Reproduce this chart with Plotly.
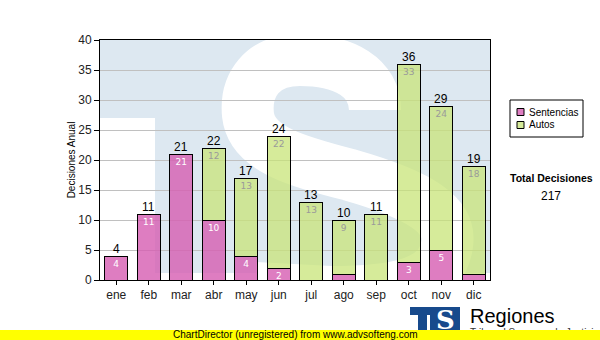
import plotly.graph_objects as go

# Monthly decisions, split by type
meses = ["ene", "feb", "mar", "abr", "may", "jun", "jul", "ago", "sep", "oct", "nov", "dic"]
sentencias = [4, 11, 21, 10, 4, 2, 0, 1, 0, 3, 5, 1]
autos = [0, 0, 0, 12, 13, 22, 13, 9, 11, 33, 24, 18]
series_names = ["Sentencias", "Autos"]
y_ticks = [0, 5, 10, 15, 20, 25, 30, 35, 40]

totales = [s + a for s, a in zip(sentencias, autos)]
total_decisiones = sum(totales)

W, H = 600, 340
PL, PR, PT, PB = 100, 490, 40, 280  # plot area in page pixels

PINK = "rgba(214,92,178,0.8)"
GREEN = "rgba(200,228,120,0.75)"
WATER = "#dde8f1"
FONT = "Liberation Sans, Arial, sans-serif"


def fx(x):
    return (x - PL) / (PR - PL)


def fy(y):
    return (PB - y) / (PB - PT)


def pg(x, y):
    return f"{fx(x):.4f},{fy(y):.4f}"


def label_text(vals):
    return [str(v) if v >= 2 else "" for v in vals]


def page_text(x, y, text, size, color="black", xanchor="center", family=FONT, **kw):
    return dict(x=fx(x), y=fy(y), xref="paper", yref="paper", text=text,
                showarrow=False, xanchor=xanchor, yanchor="middle",
                font=dict(size=size, color=color, family=family), **kw)


fig = go.Figure()
fig.add_bar(x=meses, y=sentencias, name=series_names[0],
            marker=dict(color=PINK, line=dict(color="black", width=1)),
            text=label_text(sentencias), textposition="inside",
            insidetextanchor="end", textangle=0,
            textfont=dict(color="white", size=9, family="DejaVu Sans"))
fig.add_bar(x=meses, y=autos, name=series_names[1],
            marker=dict(color=GREEN, line=dict(color="black", width=1)),
            text=label_text(autos), textposition="inside",
            insidetextanchor="end", textangle=0,
            textfont=dict(color="#9a9a9a", size=9, family="DejaVu Sans"))

annotations = []
for m, t in zip(meses, totales):
    annotations.append(dict(x=m, y=t, xref="x", yref="y", text=str(t),
                            showarrow=False, xanchor="center", yanchor="bottom",
                            yshift=-2,
                            font=dict(size=12, color="black", family=FONT)))

shapes = []
# watermark logo behind the bars: blue field with a white "S"
shapes.append(dict(type="rect", xref="paper", yref="paper", layer="below",
                   x0=fx(PL), x1=fx(PR), y0=fy(273), y1=fy(PT),
                   fillcolor=WATER, line=dict(width=0)))
shapes.append(dict(type="rect", xref="paper", yref="paper", layer="below",
                   x0=fx(PL), x1=fx(155), y0=fy(PB), y1=fy(118),
                   fillcolor="white", line=dict(width=0)))
s_path = ("M " + pg(375, 110) +
          " C " + pg(375, 78) + " " + pg(345, 60) + " " + pg(300, 60) +
          " C " + pg(262, 60) + " " + pg(245, 85) + " " + pg(248, 115) +
          " C " + pg(252, 150) + " " + pg(300, 162) + " " + pg(350, 175) +
          " C " + pg(420, 195) + " " + pg(452, 215) + " " + pg(447, 245) +
          " C " + pg(442, 282) + " " + pg(400, 292) + " " + pg(330, 292) +
          " L " + pg(255, 288))
shapes.append(dict(type="path", xref="paper", yref="paper", layer="below",
                   path=s_path, line=dict(color="white", width=52)))

# legend box
lx0, ly0, lx1, ly1 = 510, 100, 583, 137
shapes.append(dict(type="rect", xref="paper", yref="paper",
                   x0=fx(lx0), x1=fx(lx1), y0=fy(ly1), y1=fy(ly0),
                   fillcolor="white", line=dict(color="black", width=1)))
for i, (name, col) in enumerate(zip(series_names, [PINK, GREEN])):
    yc = 112 + i * 13
    shapes.append(dict(type="rect", xref="paper", yref="paper",
                       x0=fx(517), x1=fx(524), y0=fy(yc + 3.5), y1=fy(yc - 3.5),
                       fillcolor=col, line=dict(color="black", width=1)))
    annotations.append(page_text(527, yc, name, 10, xanchor="left"))

# total
annotations.append(page_text(551, 178, "<b>Total Decisiones</b>", 10.5))
annotations.append(page_text(551, 196, str(total_decisiones), 12))

# footer logo
LOGO = "#174a8c"
shapes.append(dict(type="rect", xref="paper", yref="paper",
                   x0=fx(410), x1=fx(445), y0=fy(315), y1=fy(307),
                   fillcolor=LOGO, line=dict(width=0)))
shapes.append(dict(type="rect", xref="paper", yref="paper",
                   x0=fx(418), x1=fx(427), y0=fy(332), y1=fy(315),
                   fillcolor=LOGO, line=dict(width=0)))
shapes.append(dict(type="rect", xref="paper", yref="paper",
                   x0=fx(430), x1=fx(460), y0=fy(332), y1=fy(307),
                   fillcolor=LOGO, line=dict(width=0)))
annotations.append(page_text(445, 320, "<b>S</b>", 26, color="white",
                             family="DejaVu Serif"))
annotations.append(page_text(468, 316, "Regiones", 20, xanchor="left"))
annotations.append(page_text(468, 332.5, "Tribunal Supremo de Justicia", 10,
                             color="#333", xanchor="left"))
# yellow footer strip
annotations.append(page_text(0, 335, " ", 8, xanchor="left", width=600,
                             height=10, bgcolor="#ffff00", borderpad=0,
                             borderwidth=0))
annotations.append(page_text(295, 334.5,
                             "ChartDirector (unregistered) from www.advsofteng.com",
                             10))

fig.update_layout(
    barmode="stack",
    bargap=0.3,
    width=W, height=H,
    margin=dict(l=PL, r=W - PR, t=PT, b=H - PB, pad=0),
    paper_bgcolor="white",
    plot_bgcolor="white",
    showlegend=False,
    uniformtext=dict(minsize=9, mode="show"),
    font=dict(family=FONT, size=12, color="#222"),
    shapes=shapes,
    annotations=annotations,
    xaxis=dict(showline=True, linecolor="black", linewidth=1, mirror=True,
               ticks="outside", ticklen=4, tickcolor="black",
               tickfont=dict(size=12, color="#222"), showgrid=False,
               fixedrange=True),
    yaxis=dict(range=[0, 40], tickvals=y_ticks, showline=True,
               linecolor="black", linewidth=1, mirror=True,
               ticks="outside", ticklen=5, tickcolor="black",
               tickfont=dict(size=12, color="#222"),
               showgrid=True, gridcolor="#c0c0c0", gridwidth=1,
               zeroline=False,
               title=dict(text="Decisiones Anual", standoff=0,
                          font=dict(size=10, color="black"))),
)

fig.write_html("out.html")
